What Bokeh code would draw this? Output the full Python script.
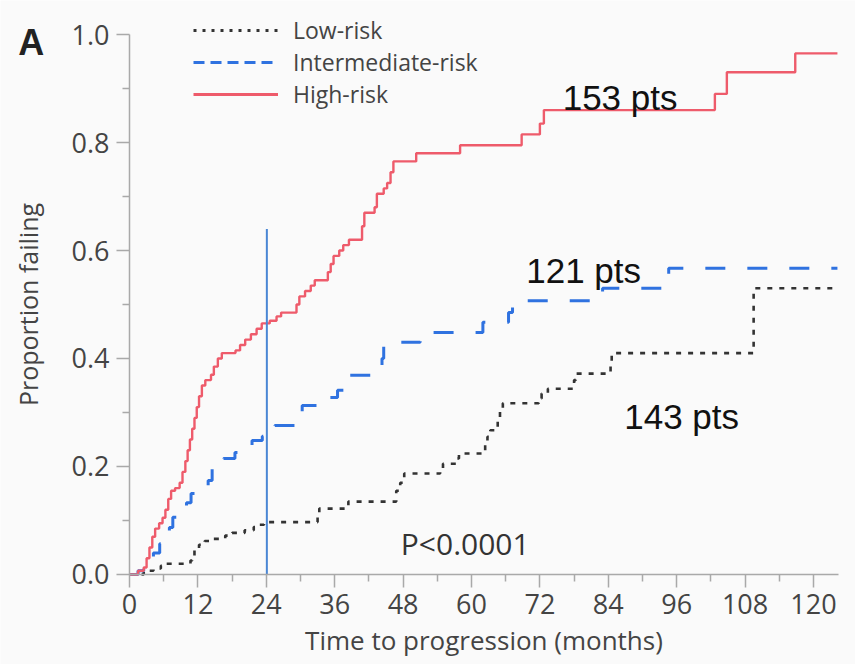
from bokeh.plotting import figure
from bokeh.models import (FixedTicker, PrintfTickFormatter, Legend, LegendItem,
                          Label, Range1d)
from bokeh.embed import file_html
from bokeh.resources import INLINE

# ---------------- data ----------------
x_ticks = [0, 12, 24, 36, 48, 60, 72, 84, 96, 108, 120]
x_minor = [6, 18, 30, 42, 54, 66, 78, 90, 102, 114]
y_ticks = [0.0, 0.2, 0.4, 0.6, 0.8, 1.0]
y_minor = [0.1, 0.3, 0.5, 0.7, 0.9]

high_t = [0, 1.5, 2.5, 3.0, 3.5, 4.0, 4.5, 5.2, 5.8, 6.3, 6.8, 7.3, 8.0, 8.8, 9.3, 9.8,
          10.2, 10.6, 11.0, 11.4, 11.8, 12.2, 12.7, 13.3, 14.3, 14.8, 15.5, 16.2, 18.6,
          19.4, 20.3, 21.3, 22.3, 23.2, 24.6, 25.8, 26.6, 29.3, 29.8, 30.8, 31.8, 32.5,
          34.8, 35.3, 35.8, 36.8, 37.5, 38.5, 40.8, 41.2, 43.0, 43.4, 44.6, 45.2, 45.8,
          46.3, 50.3, 58.0, 68.8, 72.0, 72.7, 102.7, 104.8, 116.8, 124.2]
high_p = [0, 0.007, 0.013, 0.03, 0.05, 0.07, 0.085, 0.095, 0.105, 0.12, 0.14, 0.155, 0.16,
          0.17, 0.19, 0.21, 0.23, 0.25, 0.27, 0.29, 0.31, 0.33, 0.35, 0.36, 0.37, 0.385,
          0.40, 0.41, 0.415, 0.425, 0.435, 0.445, 0.455, 0.465, 0.47, 0.478, 0.485, 0.50,
          0.515, 0.525, 0.535, 0.545, 0.56, 0.575, 0.59, 0.60, 0.61, 0.62, 0.645, 0.67,
          0.68, 0.705, 0.715, 0.725, 0.745, 0.765, 0.78, 0.795, 0.815, 0.835, 0.86, 0.89,
          0.93, 0.965, 0.965]

mid_t = [0, 1.5, 2.5, 3.5, 4.2, 5.3, 6.3, 7.0, 7.6, 8.5, 10.0, 10.8, 12.5, 13.8, 14.5,
         16.5, 18.5, 20.0, 21.5, 23.3, 25.5, 29.5, 30.3, 33.5, 35.0, 36.5, 38.0, 44.3,
         44.6, 51.0, 62.0, 66.5, 67.2, 83.0, 94.6, 124.2]
mid_p = [0, 0.007, 0.013, 0.03, 0.04, 0.057, 0.07, 0.087, 0.106, 0.12, 0.133, 0.15, 0.16,
         0.174, 0.196, 0.215, 0.226, 0.235, 0.248, 0.256, 0.276, 0.29, 0.313, 0.32, 0.328,
         0.341, 0.369, 0.40, 0.43, 0.448, 0.467, 0.485, 0.507, 0.53, 0.567, 0.567]

low_t = [0, 2.5, 4.2, 5.5, 6.2, 10.7, 11.0, 11.4, 12.2, 13.2, 14.5, 16.8, 18.0, 20.2, 21.8,
         22.8, 23.6, 33.0, 33.3, 38.4, 46.8, 47.5, 48.2, 54.5, 55.0, 57.3, 57.8, 62.4,
         62.8, 63.3, 64.6, 65.0, 65.5, 71.8, 72.3, 73.4, 78.0, 78.3, 84.4, 84.6, 109.5,
         124.2]
low_p = [0, 0.007, 0.011, 0.016, 0.02, 0.026, 0.035, 0.045, 0.055, 0.062, 0.066, 0.072,
         0.077, 0.082, 0.088, 0.092, 0.097, 0.113, 0.122, 0.135, 0.155, 0.17, 0.187, 0.197,
         0.205, 0.215, 0.224, 0.24, 0.255, 0.267, 0.29, 0.305, 0.317, 0.326, 0.335, 0.344,
         0.36, 0.372, 0.39, 0.41, 0.53, 0.53]

marker_x = [24.1]
marker_top = [0.64]

series_labels = ["Low-risk", "Intermediate-risk", "High-risk"]
count_labels = ["153 pts", "121 pts", "143 pts"]
p_value_text = "P<0.0001"

# ---------------- styling ----------------
BG = "#fafafa"
RED = "#ee5b6b"
BLUE = "#2f72e0"
BLACK = "#333333"
AXIS = "#a9a9a9"
TXT = "#444444"
UI_FONT = "Open Sans"
NAN = float("nan")

# The frame covers the whole canvas; axes are pinned at x=0 / y=0 with fixed_location
p = figure(width=855, height=664, output_backend="svg", toolbar_location=None,
           x_range=Range1d(-22.63, 127.37), y_range=Range1d(-0.1667, 1.063),
           min_border=0)
p.background_fill_color = BG
p.border_fill_color = BG
p.outline_line_color = None
p.grid.visible = False

# curves
p.step(x=low_t, y=low_p, mode="after", line_color=BLACK, line_width=2.6,
       line_dash="5 7")
p.step(x=mid_t, y=mid_p, mode="after", line_color=BLUE, line_width=3,
       line_dash="20 22")
p.step(x=high_t, y=high_p, mode="after", line_color=RED, line_width=2.4)

# vertical marker line at 24 months
p.segment(x0=marker_x, y0=[0], x1=marker_x, y1=marker_top,
          line_color="#4a86d4", line_width=2)

# axes
p.xaxis.ticker = FixedTicker(ticks=x_ticks, minor_ticks=x_minor)
p.yaxis.ticker = FixedTicker(ticks=y_ticks, minor_ticks=y_minor)
p.yaxis.formatter = PrintfTickFormatter(format="%.1f")
for ax in (p.xaxis[0], p.yaxis[0]):
    ax.fixed_location = 0
    ax.axis_line_color = AXIS
    ax.axis_line_width = 1.5
    ax.major_tick_line_color = AXIS
    ax.minor_tick_line_color = AXIS
    ax.major_tick_line_width = 1.5
    ax.minor_tick_line_width = 1.5
    ax.major_tick_in = 0
    ax.minor_tick_in = 0
    ax.major_tick_out = 13
    ax.minor_tick_out = 7
    ax.major_label_text_font = UI_FONT
    ax.major_label_text_font_size = "27px"
    ax.major_label_text_color = TXT
    ax.axis_label_text_font = UI_FONT
    ax.axis_label_text_font_style = "normal"
    ax.axis_label_text_color = TXT
p.xaxis.axis_label = "Time to progression (months)"
p.yaxis.axis_label = "Proportion failing"
p.xaxis.axis_label_text_font_size = "26px"
p.yaxis.axis_label_text_font_size = "25px"
p.xaxis.major_label_standoff = 7
p.yaxis.major_label_standoff = 7
p.xaxis.axis_label_standoff = 4
p.yaxis.axis_label_standoff = 24
p.xaxis.bounds = (0, 124.4)
p.yaxis.bounds = (0, 1.0)

# legend (sample renderers that draw nothing, styled like the reference legend)
leg_low = p.line(x=[NAN], y=[NAN], line_color=BLACK, line_width=3, line_dash="3 6")
leg_mid = p.line(x=[NAN], y=[NAN], line_color=BLUE, line_width=3, line_dash="11 6")
leg_high = p.line(x=[NAN], y=[NAN], line_color=RED, line_width=3)
legend = Legend(items=[LegendItem(label=series_labels[0], renderers=[leg_low]),
                       LegendItem(label=series_labels[1], renderers=[leg_mid]),
                       LegendItem(label=series_labels[2], renderers=[leg_high])],
                location=(193, 554), orientation="vertical",
                border_line_color=None, background_fill_alpha=0,
                label_text_font=UI_FONT, label_text_font_size="23px",
                label_text_color=TXT, glyph_width=85, glyph_height=30,
                label_height=30, label_standoff=15, spacing=0, padding=0, margin=0)
p.add_layout(legend)

# annotations
for txt, x, y in [(count_labels[0], 76.0, 0.883), (count_labels[1], 69.6, 0.563),
                  (count_labels[2], 86.8, 0.293)]:
    p.add_layout(Label(x=x, y=y, text=txt, text_font="Liberation Sans",
                       text_font_size="35px", text_color="#111111",
                       text_baseline="alphabetic"))
p.add_layout(Label(x=47.6, y=0.058, text=p_value_text, text_font=UI_FONT,
                   text_font_size="30px", text_color="#333333",
                   text_baseline="alphabetic"))
p.add_layout(Label(x=-19.5, y=0.985, text="A", text_font="Liberation Sans",
                   text_font_style="bold", text_font_size="36px",
                   text_color="#222222", text_baseline="alphabetic"))

open("out.html", "w").write(file_html(p, INLINE))
